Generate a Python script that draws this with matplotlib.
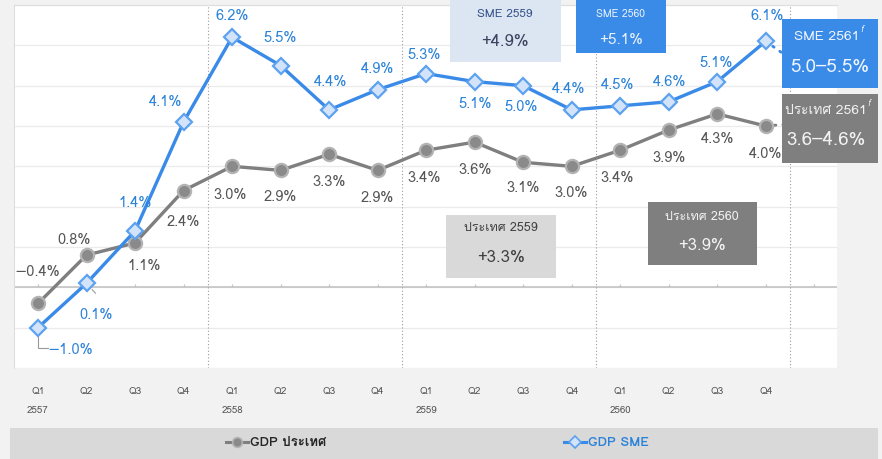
#!/usr/bin/env python
# -*- coding: utf-8 -*-
"""
GDP growth: country vs SME, quarterly 2557-2560
"""

import matplotlib
matplotlib.use('Agg')
import matplotlib.pyplot as plt
from matplotlib import font_manager, ft2font
from matplotlib.patches import Rectangle
from matplotlib.lines import Line2D
import numpy as np

# ---- data -------------------------------------------------------------
quarters = ['Q1', 'Q2', 'Q3', 'Q4'] * 4
years = ['2557', '2558', '2559', '2560']
gdp_country = [-0.4, 0.8, 1.1, 2.4, 3.0, 2.9, 3.3, 2.9, 3.4, 3.6, 3.1, 3.0, 3.4, 3.9, 4.3, 4.0]
gdp_sme = [-1.0, 0.1, 1.4, 4.1, 6.2, 5.5, 4.4, 4.9, 5.3, 5.1, 5.0, 4.4, 4.5, 4.6, 5.1, 6.1]
forecast_sme = (5.0, 5.5)
forecast_country = (3.6, 4.6)
annual_sme = {'2559': 4.9, '2560': 5.1}
annual_country = {'2559': 3.3, '2560': 3.9}

# label offsets in pixels (dx, dy)
sme_offsets = [(32, -22), (10, -32), (0, 28), (-18, 20), (0, 21), (0, 27), (1, 28), (0, 21),
               (-2, 19), (0, -22), (-2, -21), (-3, 21), (-3, 21), (1, 20), (-1, 19), (1, 25)]
country_offsets = [(-1, 31), (-12, 15), (9, -23), (0, -31), (-2, -29), (0, -27), (0, -28), (0, -28),
                   (-2, -28), (0, -28), (0, -26), (-1, -27), (-3, -28), (0, -28), (0, -25), (0, -28)]


def thai_font():
    """Find an installed font that has Thai glyphs"""
    for f in font_manager.fontManager.ttflist:
        try:
            ft = ft2font.FT2Font(f.fname)
            if ft.get_char_index(ord('ป')) and ft.get_char_index(ord('ศ')):
                return f.name
        except Exception:
            pass
    return None


thai = thai_font()
FAMILY = ([thai] if thai else []) + ['DejaVu Sans']
plt.rcParams['font.family'] = FAMILY

W, H = 882, 459
GRAY = '#7f7f7f'
BLUE = '#3a8ae8'
LABEL_BLUE = '#2b83d9'
LABEL_GRAY = '#555555'


def fx(x):
    return x / W


def fy(y):
    return 1 - y / H


def box(fig, x0, y0, x1, y1, color):
    fig.patches.append(Rectangle((fx(x0), fy(y1)), fx(x1) - fx(x0), fy(y0) - fy(y1),
                                 transform=fig.transFigure, facecolor=color,
                                 edgecolor='none', zorder=3))


def main():
    fig = plt.figure(figsize=(W / 100, H / 100), dpi=100, facecolor='#f2f2f2')
    ax = fig.add_axes([fx(14), fy(368), fx(837) - fx(14), fy(5) - fy(368)])
    ax.set_facecolor('white')

    x = np.arange(len(gdp_sme))
    ax.set_xlim(-0.495, 16.47)
    ax.set_ylim(-2, 7)

    # grid
    for yv in range(-2, 8):
        ax.axhline(yv, color='#ebebeb', lw=0.9, zorder=0)
    ax.axhline(0, color='#c4c4c4', lw=1.2, zorder=1)
    ax.vlines(np.arange(len(x) + 1), 0, 0.08, color='#c4c4c4', lw=0.9, zorder=1)
    for xv in [3.5, 7.5, 11.5, 15.5]:
        ax.axvline(xv, color='#9a9a9a', lw=0.8, ls=(0, (1, 2)), zorder=1)

    for side in ['right', 'bottom']:
        ax.spines[side].set_visible(False)
    for side in ['left', 'top']:
        ax.spines[side].set_color('#dedede')

    # forecast connectors
    for series, fc, col in [(gdp_sme, forecast_sme, BLUE), (gdp_country, forecast_country, GRAY)]:
        mid = sum(fc) / 2
        xe = len(series) - 1 + 0.38
        ye = series[-1] + (mid - series[-1]) * 0.38
        ax.plot([len(series) - 1, xe], [series[-1], ye], color=col, lw=2,
                ls=(0, (0.6, 2.5)), dash_capstyle='round', zorder=2)

    ax.plot(x, gdp_country, color=GRAY, lw=2.4, marker='o', ms=9.5,
            mfc='#8a8a8a', mec='#b3b3b3', mew=1.6, zorder=4)
    ax.plot(x, gdp_sme, color=BLUE, lw=2.4, marker='D', ms=8.5,
            mfc='#d2e3fa', mec='#5da2f0', mew=1.6, zorder=5)

    for i, v in enumerate(gdp_sme):
        dx, dy = sme_offsets[i]
        ax.annotate('{:.1f}%'.format(v).replace('-', '\u2212'), (i, v), xytext=(dx, dy),
                    textcoords='offset pixels', ha='center', va='center',
                    fontsize=10.5, color=LABEL_BLUE, zorder=6)
    for i, v in enumerate(gdp_country):
        dx, dy = country_offsets[i]
        ax.annotate('{:.1f}%'.format(v).replace('-', '\u2212'), (i, v), xytext=(dx, dy),
                    textcoords='offset pixels', ha='center', va='center',
                    fontsize=10.5, color=LABEL_GRAY, zorder=6)

    # leader lines for the first SME labels
    ax.annotate('', (0, gdp_sme[0]), xytext=(10, -20), textcoords='offset pixels',
                arrowprops=dict(arrowstyle='-', color='#999999', lw=0.8,
                                connectionstyle='angle,angleA=0,angleB=90,rad=0',
                                shrinkA=0, shrinkB=6))
    ax.annotate('', (1, gdp_sme[1]), xytext=(9, -10), textcoords='offset pixels',
                arrowprops=dict(arrowstyle='-', color='#999999', lw=0.8, shrinkA=0, shrinkB=6))

    # axis labels
    ax.set_xticks(x)
    ax.set_xticklabels(quarters, fontsize=7, color='#555555')
    ax.tick_params(axis='x', length=0, pad=14)
    ax.set_yticks([])
    for k, yr in enumerate(years):
        ax.text(4 * k, -0.116, yr, transform=ax.get_xaxis_transform(), ha='center', va='center',
                fontsize=7, color='#555555')

    # annual summary boxes
    box(fig, 450, 0, 561, 62, '#dce6f2')
    fig.text(fx(505), fy(14), 'SME 2559', ha='center', va='center', fontsize=8.5, color='#34508a')
    fig.text(fx(505), fy(42), '+{:.1f}%'.format(annual_sme['2559']), ha='center', va='center',
             fontsize=12, color='#3a4560')

    box(fig, 576, 0, 666, 53, BLUE)
    fig.text(fx(621), fy(14), 'SME 2560', ha='center', va='center', fontsize=7.5, color='#e8f1fd')
    fig.text(fx(621), fy(40), '+{:.1f}%'.format(annual_sme['2560']), ha='center', va='center',
             fontsize=11, color='#e8f1fd')

    box(fig, 446, 215, 556, 278, '#d9d9d9')
    fig.text(fx(501), fy(228), 'ประเทศ 2559', ha='center', va='center', fontsize=9, color='#404040')
    fig.text(fx(501), fy(258), '+{:.1f}%'.format(annual_country['2559']), ha='center', va='center',
             fontsize=12, color='#404040')

    box(fig, 648, 202, 757, 265, GRAY)
    fig.text(fx(702), fy(217), 'ประเทศ 2560', ha='center', va='center', fontsize=9, color='#f2f2f2')
    fig.text(fx(702), fy(246), '+{:.1f}%'.format(annual_country['2560']), ha='center', va='center',
             fontsize=12, color='#f2f2f2')

    # forecast boxes
    box(fig, 782, 19, 878, 88, BLUE)
    fig.text(fx(827), fy(37), 'SME 2561', ha='center', va='center', fontsize=10, color='#eef5fe')
    fig.text(fx(860), fy(30), 'f', ha='left', va='center', fontsize=6, style='italic', color='#eef5fe')
    fig.text(fx(830), fy(67), '{:.1f}\u2013{:.1f}%'.format(*forecast_sme), ha='center', va='center',
             fontsize=13.5, color='#eef5fe')

    box(fig, 782, 94, 878, 163, GRAY)
    fig.text(fx(826), fy(111), 'ประเทศ 2561', ha='center', va='center', fontsize=10, color='#f2f2f2')
    fig.text(fx(867), fy(103), 'f', ha='left', va='center', fontsize=6, style='italic', color='#f2f2f2')
    fig.text(fx(826), fy(140), '{:.1f}\u2013{:.1f}%'.format(*forecast_country), ha='center',
             va='center', fontsize=13.5, color='#f2f2f2')

    # legend bar
    fig.patches.append(Rectangle((fx(10), 0), fx(878) - fx(10), fy(428), transform=fig.transFigure,
                                 facecolor='#d9d9d9', edgecolor='none', zorder=0))
    h1 = Line2D([], [], color=GRAY, lw=2.2, marker='o', ms=7, mfc='#8a8a8a', mec='#b3b3b3', mew=1.2)
    h2 = Line2D([], [], color=BLUE, lw=2.2, marker='D', ms=6.5, mfc='#d2e3fa', mec='#5da2f0', mew=1.2)
    leg1 = fig.legend([h1], ['GDP ประเทศ'], loc='center left', bbox_to_anchor=(fx(226), fy(443)),
                      frameon=False, handlelength=1.7, handletextpad=0.15, borderpad=0, borderaxespad=0,
                      prop={'weight': 'bold', 'size': 9.5, 'family': FAMILY})
    for t in leg1.get_texts():
        t.set_color('#262626')
    leg2 = fig.legend([h2], ['GDP SME'], loc='center left', bbox_to_anchor=(fx(564), fy(443)),
                      frameon=False, handlelength=1.7, handletextpad=0.15, borderpad=0, borderaxespad=0,
                      prop={'weight': 'bold', 'size': 9.5, 'family': FAMILY})
    for t in leg2.get_texts():
        t.set_color(LABEL_BLUE)

    fig.savefig('out.png', dpi=100, facecolor=fig.get_facecolor())
    plt.close(fig)


if __name__ == '__main__':
    main()
